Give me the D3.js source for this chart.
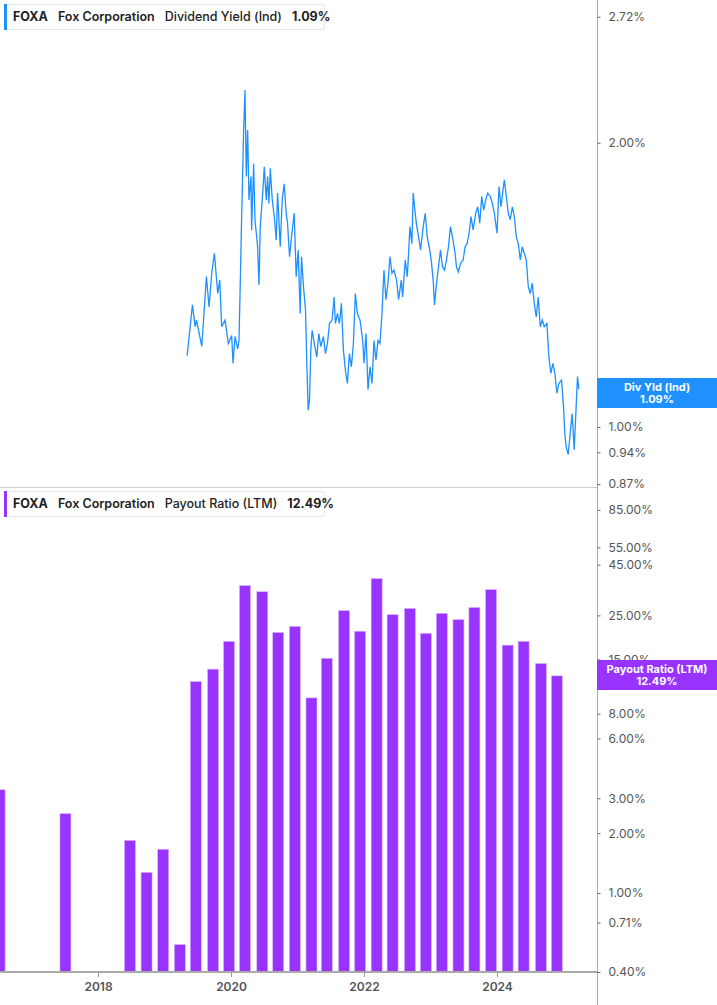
<!DOCTYPE html>
<html>
<head>
<meta charset="utf-8">
<script src="https://cdn.jsdelivr.net/npm/d3@7"></script>
<style>
  body { margin: 0; background: #fff; font-family: Inter, "Noto Sans", sans-serif; }
  svg text { font-family: Inter, "Noto Sans", sans-serif; }
</style>
</head>
<body>
<div id="chart"></div>
<script>
// dividend yield (%), [decimal year, value]
var yieldSeries = [
  [2019.34,1.19],[2019.37,1.247],[2019.42,1.347],[2019.46,1.277],[2019.48,1.298],[2019.53,1.247],
  [2019.56,1.217],[2019.59,1.308],[2019.63,1.443],[2019.67,1.34],[2019.71,1.455],[2019.75,1.527],
  [2019.80,1.385],[2019.83,1.431],[2019.86,1.277],[2019.91,1.298],[2019.96,1.226],[2020.01,1.25],
  [2020.03,1.168],[2020.06,1.247],[2020.10,1.21],[2020.12,1.235],[2020.14,1.431],[2020.16,1.671],
  [2020.19,2.063],[2020.21,2.275],[2020.23,1.842],[2020.25,2.063],[2020.27,1.74],[2020.30,1.842],
  [2020.31,1.617],[2020.34,1.902],[2020.36,1.658],[2020.40,1.552],[2020.42,1.414],[2020.44,1.63],
  [2020.48,1.783],[2020.50,1.886],[2020.53,1.74],[2020.55,1.842],[2020.57,1.725],[2020.59,1.88],
  [2020.62,1.74],[2020.65,1.671],[2020.68,1.578],[2020.70,1.769],[2020.74,1.552],[2020.77,1.74],
  [2020.80,1.81],[2020.83,1.684],[2020.85,1.644],[2020.88,1.515],[2020.91,1.59],[2020.95,1.684],
  [2020.98,1.443],[2021.01,1.54],[2021.04,1.319],[2021.06,1.515],[2021.09,1.408],[2021.12,1.331],
  [2021.14,1.168],[2021.16,1.042],[2021.18,1.068],[2021.20,1.207],[2021.22,1.266],[2021.26,1.217],
  [2021.29,1.186],[2021.32,1.256],[2021.35,1.217],[2021.39,1.247],[2021.42,1.196],[2021.45,1.226],
  [2021.48,1.287],[2021.52,1.298],[2021.55,1.373],[2021.57,1.287],[2021.60,1.319],[2021.63,1.287],
  [2021.66,1.352],[2021.69,1.207],[2021.72,1.149],[2021.75,1.112],[2021.78,1.196],[2021.81,1.158],
  [2021.84,1.226],[2021.87,1.385],[2021.90,1.319],[2021.94,1.298],[2021.98,1.235],[2022.00,1.168],
  [2022.03,1.256],[2022.06,1.096],[2022.09,1.158],[2022.12,1.112],[2022.15,1.235],[2022.18,1.177],
  [2022.21,1.235],[2022.24,1.226],[2022.27,1.319],[2022.30,1.466],[2022.33,1.364],[2022.36,1.42],
  [2022.39,1.515],[2022.42,1.455],[2022.45,1.466],[2022.49,1.431],[2022.52,1.364],[2022.56,1.431],
  [2022.58,1.373],[2022.62,1.503],[2022.65,1.443],[2022.67,1.527],[2022.69,1.63],[2022.72,1.564],
  [2022.74,1.769],[2022.77,1.684],[2022.79,1.637],[2022.82,1.59],[2022.85,1.54],[2022.89,1.63],
  [2022.92,1.684],[2022.95,1.59],[2022.98,1.552],[2023.01,1.503],[2023.04,1.431],[2023.06,1.347],
  [2023.09,1.42],[2023.12,1.478],[2023.15,1.54],[2023.18,1.478],[2023.21,1.466],[2023.24,1.503],
  [2023.27,1.552],[2023.30,1.63],[2023.33,1.59],[2023.37,1.527],[2023.39,1.478],[2023.42,1.46],
  [2023.45,1.49],[2023.49,1.503],[2023.52,1.552],[2023.55,1.564],[2023.58,1.604],[2023.61,1.671],
  [2023.64,1.617],[2023.68,1.684],[2023.71,1.711],[2023.74,1.644],[2023.77,1.754],[2023.80,1.697],
  [2023.83,1.74],[2023.86,1.769],[2023.90,1.754],[2023.93,1.725],[2023.96,1.684],[2024.00,1.604],
  [2024.03,1.798],[2024.06,1.711],[2024.09,1.783],[2024.11,1.827],[2024.14,1.754],[2024.17,1.684],
  [2024.20,1.658],[2024.23,1.711],[2024.26,1.671],[2024.29,1.59],[2024.32,1.564],[2024.35,1.503],
  [2024.38,1.552],[2024.41,1.527],[2024.44,1.503],[2024.47,1.408],[2024.50,1.385],[2024.53,1.42],
  [2024.56,1.352],[2024.59,1.308],[2024.62,1.373],[2024.65,1.277],[2024.68,1.298],[2024.71,1.277],
  [2024.75,1.287],[2024.78,1.186],[2024.81,1.14],[2024.84,1.168],[2024.87,1.14],[2024.90,1.086],
  [2024.93,1.112],[2024.97,1.121],[2025.00,1.051],[2025.02,0.984],[2025.04,0.953],[2025.07,0.935],
  [2025.10,0.984],[2025.13,1.033],[2025.16,0.946],[2025.19,1.051],[2025.21,1.131],[2025.23,1.096]
];

// payout ratio LTM (%), quarterly
var payoutDates = [2016.52,2017.51,2018.48,2018.73,2018.98,2019.23,2019.47,2019.73,2019.97,
  2020.21,2020.47,2020.71,2020.96,2021.21,2021.44,2021.70,2021.94,2022.19,2022.43,2022.69,
  2022.93,2023.17,2023.42,2023.66,2023.91,2024.16,2024.40,2024.66,2024.90];
var payoutValues = [3.31,2.51,1.84,1.27,1.66,0.55,11.6,13.4,18.5,35.3,32.9,20.5,22.0,9.6,15.2,
  26.4,20.8,38.3,25.2,27.1,20.3,25.6,23.8,27.4,33.7,17.7,18.5,14.3,12.4];

var yieldTicks = [0.87,0.94,1.00,2.00,2.72];
var payoutTicks = [0.40,0.71,1,2,3,6,8,15,25,45,55,85];
var yearTicks = [2018,2020,2022,2024];

var W = 717, H = 1005, axisX = 597;
var blue = "#1e90ff", purple = "#9933ff";

var svg = d3.select("#chart").append("svg").attr("width", W).attr("height", H);

var x = d3.scaleLinear().domain([2016.526, 2016.526 + axisX / 66.5]).range([0, axisX]);
var yTop = d3.scaleLog().domain([Math.exp(-60 / 410), Math.exp(427 / 410)]).range([487, 0]);
var yBot = d3.scaleLog().domain([0.4, 0.4 * Math.exp(487 / 86.6)]).range([972, 487]);

svg.append("defs").append("clipPath").attr("id", "clip")
  .append("rect").attr("x", 0).attr("y", 0).attr("width", axisX).attr("height", H);

// top panel line
svg.append("path").datum(yieldSeries)
  .attr("clip-path", "url(#clip)")
  .attr("fill", "none").attr("stroke", blue).attr("stroke-width", 1.3)
  .attr("d", d3.line().x(function(d){ return x(d[0]); }).y(function(d){ return yTop(d[1]); }));

// bottom panel bars
var bw = 11;
svg.append("g").attr("clip-path", "url(#clip)").selectAll("rect")
  .data(payoutValues).join("rect")
  .attr("x", function(d, i){ return x(payoutDates[i]) - bw / 2; })
  .attr("width", bw)
  .attr("y", function(d){ return yBot(d); })
  .attr("height", function(d){ return 972 - yBot(d); })
  .attr("fill", purple).attr("stroke", "#d9b3ff").attr("stroke-width", 0.6);

// separator and axes
svg.append("line").attr("x1", 0).attr("x2", axisX).attr("y1", 487.5).attr("y2", 487.5)
  .attr("stroke", "#ccc");
svg.append("line").attr("x1", axisX + 0.5).attr("x2", axisX + 0.5).attr("y1", 0).attr("y2", H)
  .attr("stroke", "#aaa");

var fmt = function(d){ return d.toFixed(2) + "%"; };
function rightAxis(scale, ticks) {
  var g = svg.append("g").attr("transform", "translate(" + (axisX + 0.5) + ",0)")
    .call(d3.axisRight(scale).tickValues(ticks).tickFormat(fmt).tickSize(3).tickPadding(8));
  g.select(".domain").remove();
  g.selectAll("line").attr("stroke", "#666");
  g.selectAll("text").attr("fill", "#555").attr("font-size", 12);
}
rightAxis(yTop, yieldTicks);
rightAxis(yBot, payoutTicks);

var xa = svg.append("g").attr("transform", "translate(0,972)")
  .call(d3.axisBottom(x).tickValues(yearTicks).tickFormat(d3.format("d")).tickSize(5).tickPadding(5));
xa.select(".domain").attr("stroke", "#aaa").attr("stroke-width", 2).attr("d", "M0,0H" + axisX);
xa.selectAll("line").attr("stroke", "#999");
xa.selectAll("text").attr("fill", "#555").attr("font-size", 12).attr("font-weight", 600);

// legends
function legend(y0, color, label, value, w) {
  var g = svg.append("g").attr("transform", "translate(4," + y0 + ")");
  g.append("rect").attr("x", 0.5).attr("y", 0.5).attr("width", w).attr("height", 25).attr("rx", 2)
    .attr("fill", "#fff").attr("stroke", "#e6e6e6");
  g.append("rect").attr("x", 0).attr("y", 0).attr("width", 3).attr("height", 26).attr("fill", color);
  var t = g.append("text").attr("x", 9).attr("y", 17).attr("font-size", 12.5).attr("fill", "#222");
  t.append("tspan").attr("font-weight", 700).text("FOXA");
  t.append("tspan").attr("dx", 10).attr("font-weight", 600).text("Fox Corporation");
  t.append("tspan").attr("dx", 10).attr("font-weight", 500).text(label);
  t.append("tspan").attr("dx", 10).attr("font-weight", 700).text(value);
}
legend(4, blue, "Dividend Yield (Ind)", "1.09%", 320);
legend(491, purple, "Payout Ratio (LTM)", "12.49%", 320);

// last-value tags
function tag(yc, color, l1, l2) {
  var g = svg.append("g");
  g.append("rect").attr("x", axisX).attr("y", yc - 15).attr("width", W - axisX).attr("height", 30)
    .attr("fill", color);
  g.append("text").attr("x", 657).attr("y", yc - 2).attr("text-anchor", "middle")
    .attr("fill", "#fff").attr("font-size", 11).attr("font-weight", 700).text(l1);
  g.append("text").attr("x", 657).attr("y", yc + 10).attr("text-anchor", "middle")
    .attr("fill", "#fff").attr("font-size", 11).attr("font-weight", 700).text(l2);
}
tag(393, blue, "Div Yld (Ind)", "1.09%");
tag(675, purple, "Payout Ratio (LTM)", "12.49%");
</script>
</body>
</html>
